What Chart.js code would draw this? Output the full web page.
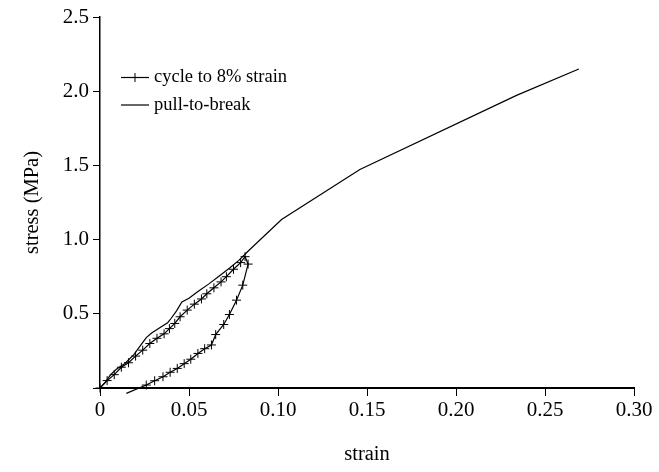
<!DOCTYPE html>
<html>
<head>
<meta charset="utf-8">
<script src="https://cdn.jsdelivr.net/npm/chart.js@4/dist/chart.umd.min.js"></script>
<style>
  html, body { margin: 0; padding: 0; background: #fff; }
  #wrap { width: 659px; height: 472px; }
</style>
</head>
<body>
<div id="wrap"><canvas id="stressChart" width="659" height="472"></canvas></div>
<script>
"use strict";

// cycle to 8% strain: loading branch then unloading branch
var cycleStrain = [0, 0.004, 0.008, 0.012, 0.016, 0.020, 0.024, 0.028, 0.032, 0.036, 0.039, 0.042,
    0.045, 0.049, 0.053, 0.057, 0.060, 0.064, 0.068, 0.071, 0.075, 0.079, 0.0815,
    0.0832, 0.0802, 0.0767, 0.0727, 0.0695, 0.065, 0.0626, 0.0588, 0.055, 0.051, 0.0473,
    0.0434, 0.0394, 0.0354, 0.0307, 0.026, 0.0148];
var cycleStress = [0, 0.05, 0.09, 0.14, 0.17, 0.215, 0.255, 0.30, 0.335, 0.365, 0.40, 0.435,
    0.48, 0.525, 0.565, 0.60, 0.635, 0.675, 0.715, 0.75, 0.80, 0.845, 0.885,
    0.835, 0.693, 0.592, 0.495, 0.428, 0.36, 0.29, 0.265, 0.233, 0.194, 0.164,
    0.132, 0.106, 0.076, 0.049, 0.02, -0.036];

// pull-to-break
var pullStrain = [0, 0.003, 0.006, 0.009, 0.014, 0.019, 0.023, 0.026, 0.029, 0.034, 0.038, 0.040,
    0.043, 0.046, 0.050, 0.055, 0.061, 0.067, 0.073, 0.078, 0.083, 0.102, 0.146, 0.234, 0.269];
var pullStress = [0, 0.04, 0.09, 0.125, 0.165, 0.225, 0.29, 0.34, 0.37, 0.41, 0.44, 0.47,
    0.52, 0.58, 0.605, 0.65, 0.70, 0.755, 0.81, 0.86, 0.92, 1.135, 1.472, 1.972, 2.15];

var strainTicks = [0, 0.05, 0.10, 0.15, 0.20, 0.25, 0.30];
var strainTickLabels = ["0", "0.05", "0.10", "0.15", "0.20", "0.25", "0.30"];
var stressTicks = [0, 0.5, 1.0, 1.5, 2.0, 2.5];
var stressTickLabels = ["", "0.5", "1.0", "1.5", "2.0", "2.5"];

function toPoints(xs, ys) {
    return xs.map(function(x, i) { return { x: x, y: ys[i] }; });
}

var serif = "'Liberation Serif', 'Times New Roman', serif";
Chart.defaults.font.family = serif;
Chart.defaults.color = '#000';

// the last point of the unloading branch runs below the axis without a marker
var cycleRadius = cycleStrain.map(function(v, i) { return i === cycleStrain.length - 1 ? 0 : 4.5; });

// small legend drawn inside the plot, top left
var insideLegend = {
    id: 'insideLegend',
    afterDraw: function(chart) {
        var ctx = chart.ctx;
        var x0 = 121, x1 = 149, tx = 154;
        var rows = [77.5, 105];
        ctx.save();
        chart.data.datasets.forEach(function(ds, i) {
            var y = rows[i];
            ctx.strokeStyle = '#000';
            ctx.lineWidth = 1.2;
            ctx.beginPath();
            ctx.moveTo(x0, y);
            ctx.lineTo(x1, y);
            ctx.stroke();
            if (ds.pointStyle === 'cross') {
                var cx = (x0 + x1) / 2;
                ctx.lineWidth = 1;
                ctx.beginPath();
                ctx.moveTo(cx, y - 4.5);
                ctx.lineTo(cx, y + 4.5);
                ctx.stroke();
            }
            ctx.fillStyle = '#000';
            ctx.font = '18.5px ' + serif;
            ctx.textBaseline = 'middle';
            ctx.textAlign = 'left';
            ctx.fillText(ds.label, tx, y);
        });
        ctx.restore();
    }
};

var chart = new Chart(document.getElementById('stressChart').getContext('2d'), {
    type: 'scatter',
    data: {
        datasets: [{
            label: 'cycle to 8% strain',
            data: toPoints(cycleStrain, cycleStress),
            showLine: true,
            borderColor: '#000',
            backgroundColor: '#000',
            borderWidth: 1.2,
            pointStyle: 'cross',
            pointRadius: cycleRadius,
            pointBorderWidth: 1,
            pointBorderColor: '#000',
            tension: 0,
            clip: false
        },
        {
            label: 'pull-to-break',
            data: toPoints(pullStrain, pullStress),
            showLine: true,
            borderColor: '#000',
            borderWidth: 1.2,
            pointRadius: 0,
            tension: 0
        }]
    },
    options: {
        responsive: false,
        animation: false,
        events: [],
        layout: { padding: { top: 17, right: 25, left: 0, bottom: 0 } },
        plugins: {
            legend: { display: false },
            tooltip: { enabled: false }
        },
        scales: {
            x: {
                type: 'linear',
                min: 0,
                max: 0.3,
                afterFit: function(scale) { scale.height = 84; },
                afterBuildTicks: function(scale) {
                    scale.ticks = strainTicks.map(function(v) { return { value: v }; });
                },
                ticks: {
                    font: { size: 21 },
                    padding: 2,
                    maxRotation: 0,
                    callback: function(v) {
                        var i = strainTicks.indexOf(v);
                        return i >= 0 ? strainTickLabels[i] : '';
                    }
                },
                grid: {
                    display: true,
                    drawOnChartArea: false,
                    drawTicks: true,
                    tickLength: 8,
                    color: '#000',
                    lineWidth: 1
                },
                border: { display: true, color: '#000', width: 2 },
                title: {
                    display: true,
                    text: 'strain',
                    font: { size: 20.5 },
                    padding: { top: 0, bottom: 5 }
                }
            },
            y: {
                type: 'linear',
                min: 0,
                max: 2.5,
                afterFit: function(scale) { scale.width = 100; },
                afterBuildTicks: function(scale) {
                    scale.ticks = stressTicks.map(function(v) { return { value: v }; });
                },
                ticks: {
                    font: { size: 21 },
                    padding: 4,
                    callback: function(v) {
                        var i = stressTicks.indexOf(v);
                        return i >= 0 ? stressTickLabels[i] : '';
                    }
                },
                grid: {
                    display: true,
                    drawOnChartArea: false,
                    drawTicks: true,
                    tickLength: 7,
                    color: '#000',
                    lineWidth: 1
                },
                border: { display: true, color: '#000', width: 1.5 },
                title: {
                    display: true,
                    text: 'stress (MPa)',
                    font: { size: 20.5 },
                    padding: { top: 20, bottom: 0 }
                }
            }
        }
    },
    plugins: [insideLegend]
});
</script>
</body>
</html>
